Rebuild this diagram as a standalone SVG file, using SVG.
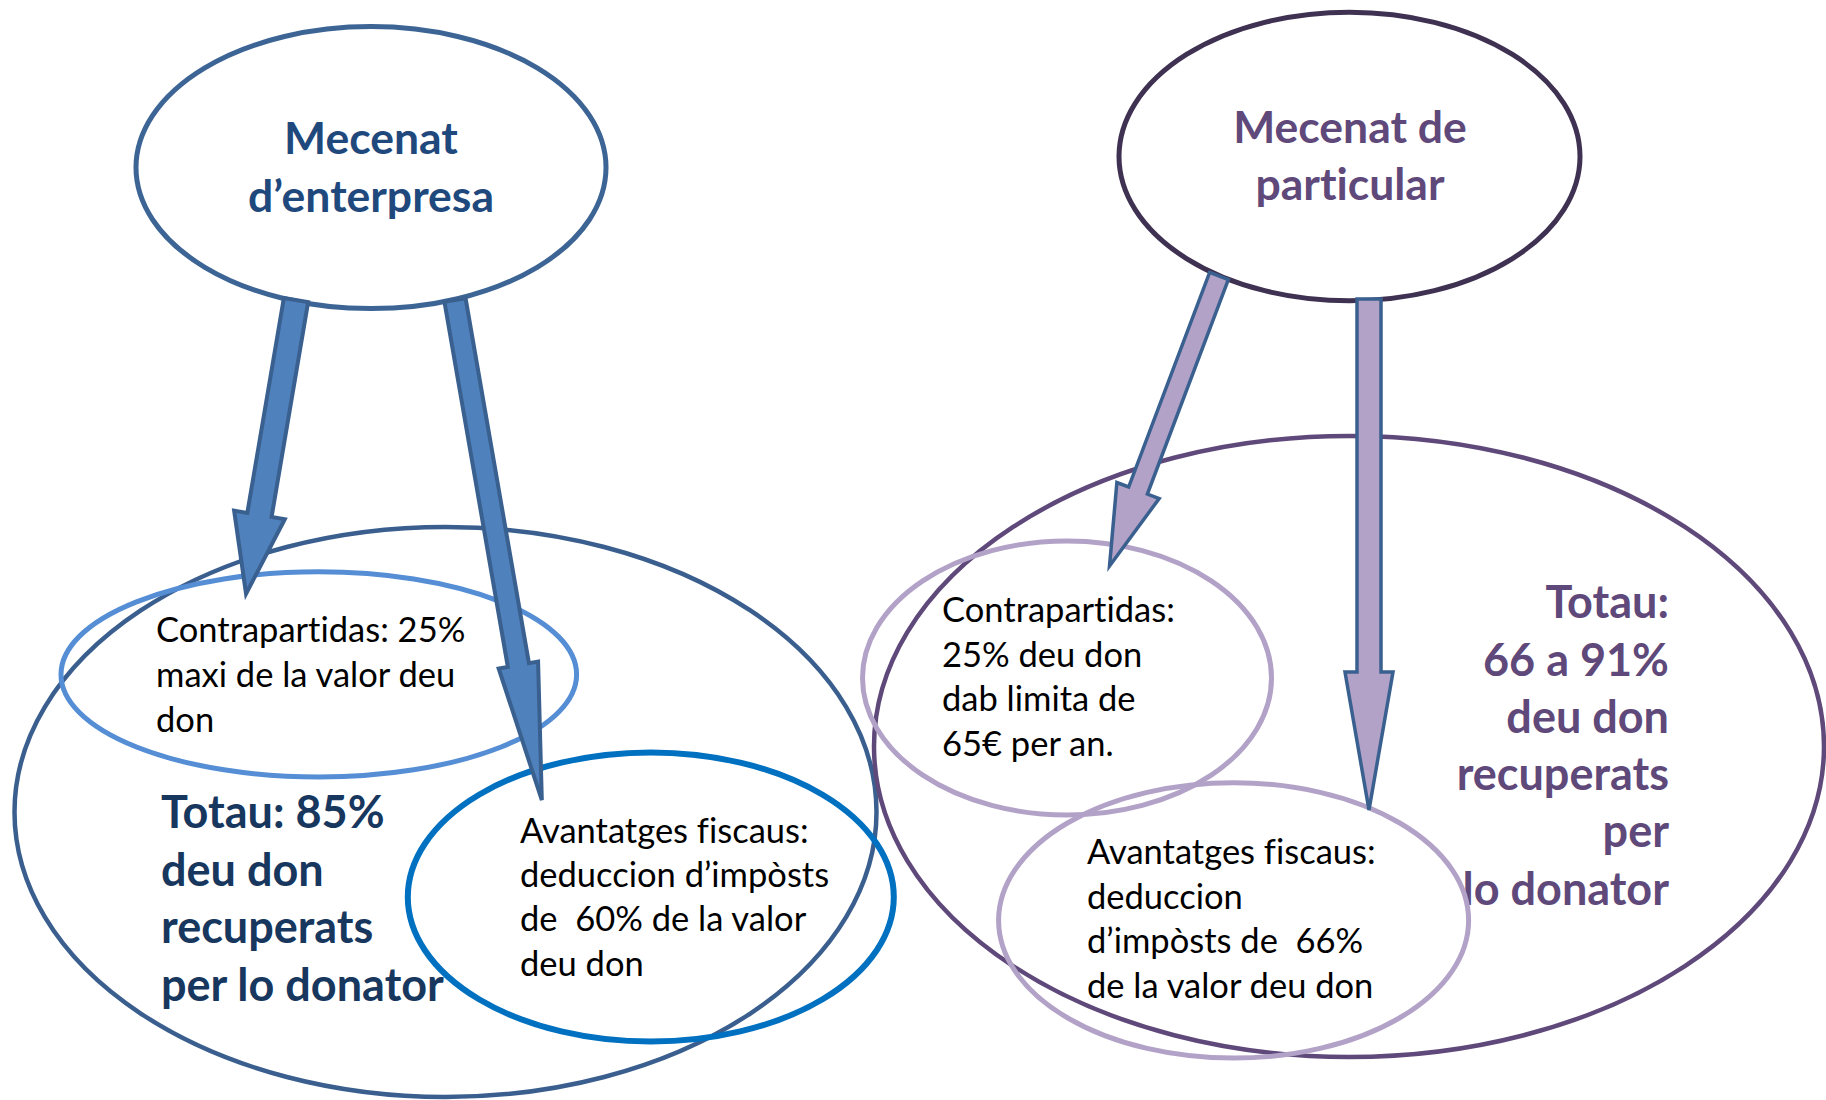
<svg xmlns="http://www.w3.org/2000/svg" width="1826" height="1100" viewBox="0 0 1826 1100">
<style>
text{font-variant-ligatures:none;white-space:pre}
.t{font-family:Lato,"Open Sans","Liberation Sans",sans-serif;font-size:34.5px;fill:#000}
.b{font-family:Lato,"Open Sans","Liberation Sans",sans-serif;font-weight:bold;font-size:45px}
.ttl{font-family:Lato,"Open Sans","Liberation Sans",sans-serif;font-weight:bold;font-size:44.5px;text-anchor:middle}
.e{fill:none}
.ab{fill:#4F81BD;stroke:#3A6090;stroke-width:4;stroke-linejoin:miter}
.ap{fill:#B3A2C7;stroke:#3A6090;stroke-width:3.5;stroke-linejoin:miter}
</style>
<rect width="1826" height="1100" fill="#fff"/>
<g id="left-total">
<ellipse class="e" cx="445.5" cy="812" rx="431" ry="285" stroke="#3A5F8F" stroke-width="4.5"/>
<text class="b" fill="#17375E"><tspan x="161" y="828">Totau: 85%</tspan><tspan x="161" y="886">deu don</tspan><tspan x="161" y="943">recuperats</tspan><tspan x="161" y="1001">per lo donator</tspan></text>
</g>
<g id="left-contrapartidas">
<ellipse class="e" cx="318.8" cy="674.4" rx="257.8" ry="102.6" stroke="#558ED5" stroke-width="5"/>
<text class="t"><tspan x="156" y="642">Contrapartidas: 25%</tspan><tspan x="156" y="687">maxi de la valor deu</tspan><tspan x="156" y="732">don</tspan></text>
</g>
<g id="left-avantatges">
<ellipse class="e" cx="650.8" cy="897" rx="243" ry="144.6" stroke="#0070C0" stroke-width="6"/>
<text class="t"><tspan x="520" y="843">Avantatges fiscaus:</tspan><tspan x="520" y="887">deduccion d’impòsts</tspan><tspan x="520" y="931">de  60% de la valor</tspan><tspan x="520" y="976">deu don</tspan></text>
</g>
<g id="right-total">
<ellipse class="e" cx="1349" cy="746.5" rx="475" ry="310.5" stroke="#5F497A" stroke-width="4.5"/>
<text class="b" fill="#5F497A" text-anchor="end"><tspan x="1669" y="618">Totau:</tspan><tspan x="1669" y="676">66 a 91%</tspan><tspan x="1669" y="733">deu don</tspan><tspan x="1669" y="790">recuperats</tspan><tspan x="1669" y="847">per</tspan><tspan x="1669" y="905">lo donator</tspan></text>
</g>
<g id="right-contrapartidas">
<ellipse class="e" cx="1067" cy="678" rx="204.5" ry="137" stroke="#B3A2C7" stroke-width="5"/>
<text class="t"><tspan x="942" y="622">Contrapartidas:</tspan><tspan x="942" y="667">25% deu don</tspan><tspan x="942" y="711">dab limita de</tspan><tspan x="942" y="756">65€ per an.</tspan></text>
</g>
<g id="right-avantatges">
<ellipse class="e" cx="1233.6" cy="920.4" rx="235" ry="137.7" stroke="#B3A2C7" stroke-width="5"/>
<text class="t"><tspan x="1087" y="864">Avantatges fiscaus:</tspan><tspan x="1087" y="909">deduccion</tspan><tspan x="1087" y="953">d’impòsts de  66%</tspan><tspan x="1087" y="998">de la valor deu don</tspan></text>
</g>
<g id="mecenat-enterpresa">
<ellipse cx="371" cy="167.6" rx="235" ry="141" fill="#fff" stroke="#3C6494" stroke-width="5"/>
<text class="ttl" fill="#1F497D"><tspan x="371" y="154">Mecenat</tspan><tspan x="371" y="212">d’enterpresa</tspan></text>
</g>
<g id="mecenat-particular">
<ellipse cx="1349.5" cy="156.5" rx="230.5" ry="144.3" fill="#fff" stroke="#3F3151" stroke-width="5"/>
<text class="ttl" fill="#5F497A"><tspan x="1350" y="143">Mecenat de</tspan><tspan x="1350" y="200">particular</tspan></text>
</g>
<g id="connectors">
<polygon class="ab" transform="translate(296,300) rotate(9.65)" points="-12.3,0 12.3,0 12.3,218 25.7,218 0,298 -25.7,218 -12.3,218"/>
<polygon class="ab" transform="translate(455,300) rotate(-9.85)" points="-10.7,0 10.7,0 10.7,370.5 20,370.5 0,507.5 -20,370.5 -10.7,370.5"/>
<polygon class="ap" transform="translate(1219,276) rotate(20.68)" points="-10,0 10,0 10,229.3 22.6,229.3 0,310 -22.6,229.3 -10,229.3"/>
<polygon class="ap" transform="translate(1369,299)" points="-12,0 12,0 12,373 24,373 0,511 -24,373 -12,373"/>
</g>
</svg>
